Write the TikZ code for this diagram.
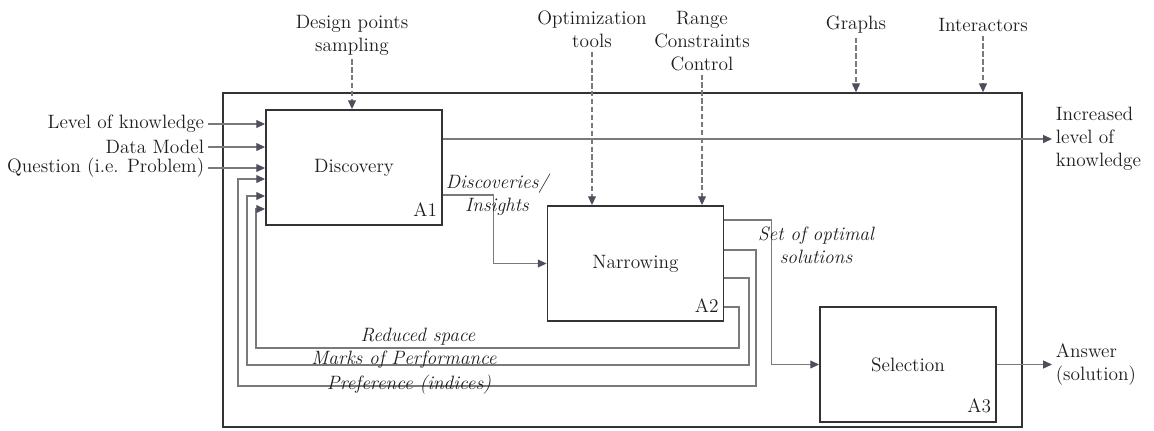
\documentclass[tikz,border=0pt]{standalone}
\usepackage{xcolor}
\usepackage{tikz}
\usetikzlibrary{calc, positioning, arrows.meta}
\definecolor{linegray}{HTML}{7A7A7A}
\definecolor{tipgray}{HTML}{4E4E5C}
\definecolor{boxgray}{HTML}{333333}
\definecolor{txtgray}{HTML}{1E1E1E}

\begin{document}
\begin{tikzpicture}[x=0.02cm, y=-0.02cm,
    every node/.style={font=\fontsize{11}{13}\selectfont, text=txtgray, inner sep=2pt},
    blk/.style={draw=boxgray, line width=1.1pt, minimum width=3.52cm, minimum height=2.3cm},
    lbl/.style={font=\fontsize{11}{13}\selectfont\itshape, align=center},
    flow/.style={draw=linegray, line width=0.6pt, -{Triangle[length=5pt, width=4.5pt, color=tipgray]}},
    ctrl/.style={draw=linegray, line width=0.6pt, dash pattern=on 3pt off 1.5pt, -{Triangle[length=5pt, width=4.5pt, color=tipgray]}}]
    \useasboundingbox (0,0) rectangle (1154,430);
    % Outer frame
    \node[draw=boxgray, line width=0.9pt, minimum width=15.98cm, minimum height=6.68cm, inner sep=0pt] (frame) at (622.5,260) {};
    % Activity boxes
    \node[blk] (disc) at (354,167.5) {Discovery};
    \node[blk] (narr) at (635.5,263.5) {Narrowing};
    \node[blk] (sel) at (908,364.5) {Selection};
    \foreach \b/\t in {disc/A1, narr/A2, sel/A3} {
        \node[anchor=south east] (\b-num) at ($(\b.south east)+(-2,-6)$) {\t};
    }
    % Inputs (left)
    \foreach \n/\t/\y in {lok/Level of knowledge/124, dm/Data Model/147, q/Question (i.e. Problem)/168} {
        \node[anchor=east] (\n) at (208,\y) {\t};
        \draw[flow] (\n.east) -- (\n.east -| disc.west);
    }
    % Controls (top, dashed)
    \foreach \n/\t/\x/\y/\tgt in {dps/Design points\\sampling/352/35.5/disc, opt/Optimization\\tools/592/29.5/narr, rcc/Range\\Constraints\\Control/702/41/narr, gr/Graphs/856/25/frame, ia/Interactors/983/25/frame} {
        \node[align=center] (\n) at (\x,\y) {\t};
        \draw[ctrl] (\n.south) -- (\n.south |- \tgt.north);
    }
    % Outputs (right)
    \node[anchor=west, align=left] (inc) at (1052,139) {Increased\\level of\\knowledge};
    \draw[flow] (disc.east |- inc.west) -- (inc.west);
    \node[anchor=west, align=left] (ans) at (1052,364.5) {Answer\\(solution)};
    \draw[flow] (sel.east) -- (ans.west);
    % Links between activities
    \draw[flow] (disc.east |- 0,195) -| ($(narr.west)+(-53,0)$) -- (narr.west);
    \node[lbl] (disc-lbl) at (497,194.5) {Discoveries/\\Insights};
    \draw[flow] (narr.east |- 0,220) -| ($(sel.west)+(-48,0)$) -- (sel.west);
    \node[lbl] (sos-lbl) at (816,245) {Set of optimal\\solutions};
    % Feedback loops back to Discovery
    \foreach \yo/\xr/\yb/\xl/\yi in {307/739/348/256/209, 278/749/365/247/196, 250/756/386/238/179} {
        \draw[flow] (narr.east |- 0,\yo) -| (\xr,\yb) -| (\xl,\yi) -- (disc.west |- 0,\yi);
    }
    \node[lbl] (rs-lbl) at (418,337) {Reduced space};
    \node[lbl] (mp-lbl) at (404,360) {Marks of Performance};
    \node[lbl] (pi-lbl) at (409,385) {Preference (indices)};
\end{tikzpicture}
\end{document}
